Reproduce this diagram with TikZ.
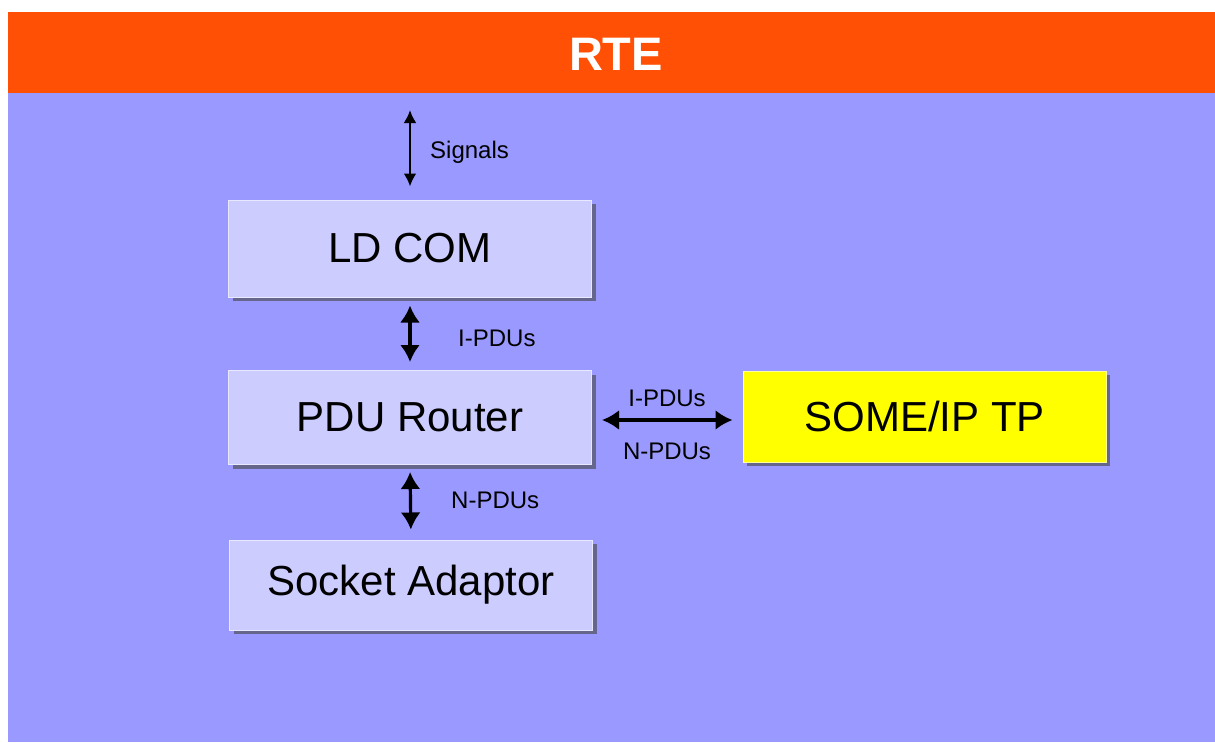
\documentclass[tikz,border=0pt]{standalone}
\usepackage{fontspec}
\setmainfont{Liberation Sans}
\usepackage{xcolor}
\usepackage{tikz}
\usetikzlibrary{positioning,shadows,arrows.meta}

\definecolor{rteorange}{RGB}{255,80,5}
\definecolor{rteblue}{RGB}{153,153,255}
\definecolor{modfill}{RGB}{204,204,255}
\definecolor{tpyellow}{RGB}{255,255,0}
\definecolor{shadowgray}{RGB}{102,102,140}

\begin{document}
\begin{tikzpicture}[x=1pt,y=-1pt,
	module/.style={fill=modfill, draw=white!55!modfill, line width=1pt,
		minimum width=363pt, minimum height=94pt, inner sep=0pt,
		font=\fontsize{42}{50}\selectfont,
		drop shadow={shadow xshift=4pt, shadow yshift=-4pt, fill=shadowgray, opacity=1}},
	flow/.style={line width=3.2pt, {Latex[length=17pt,width=20pt]}-{Latex[length=17pt,width=20pt]}},
	sigflow/.style={line width=2.8pt, {Latex[length=13pt,width=13pt]}-{Latex[length=13pt,width=13pt]}},
	pdulabel/.style={font=\fontsize{24}{28}\selectfont, inner sep=0pt}]
	\useasboundingbox (0,0) rectangle (1215,742);
	\fill[rteblue]   (8,93) rectangle (1215,742);
	\fill[rteorange] (8,12) rectangle (1215,93);
	\node[font=\fontsize{47}{54}\selectfont\bfseries, text=white] (rte) at (616,54) {RTE};
	% modules
	\node[module, minimum height=97pt] (ldcom)  at (410,248.5) {LD COM};
	\node[module] (pdur)   at (410,417.5) {PDU Router};
	\node[module, minimum height=90pt] (soad)   at (411,585) {Socket Adaptor};
	\node[module, fill=tpyellow, draw=white!60!tpyellow, minimum height=91pt] (sometp) at (924.5,416.5) {SOME/IP TP};
	% connections
	\coordinate (sigtop) at (410,110);
	\draw[sigflow, shorten >=13pt] (sigtop) -- (ldcom.north);
	\draw[flow, shorten <=8pt, shorten >=8pt] (ldcom.south) -- (pdur.north);
	\draw[flow, shorten <=7pt, shorten >=10pt] (pdur.south) -- (soad.north);
	\draw[flow, shorten <=10pt, shorten >=10pt] (pdur.east |- 0,420) -- (sometp.west |- 0,420);
	\node[pdulabel, anchor=west] (sig)  at (430,152) {Signals};
	\node[pdulabel, anchor=west] (ipdu) at (458,338) {I-PDUs};
	\node[pdulabel, anchor=west] (npdu) at (451,500) {N-PDUs};
	\node[pdulabel] (ipdutp) at (667,398) {I-PDUs};
	\node[pdulabel] (npdutp) at (667,451) {N-PDUs};
\end{tikzpicture}
\end{document}
